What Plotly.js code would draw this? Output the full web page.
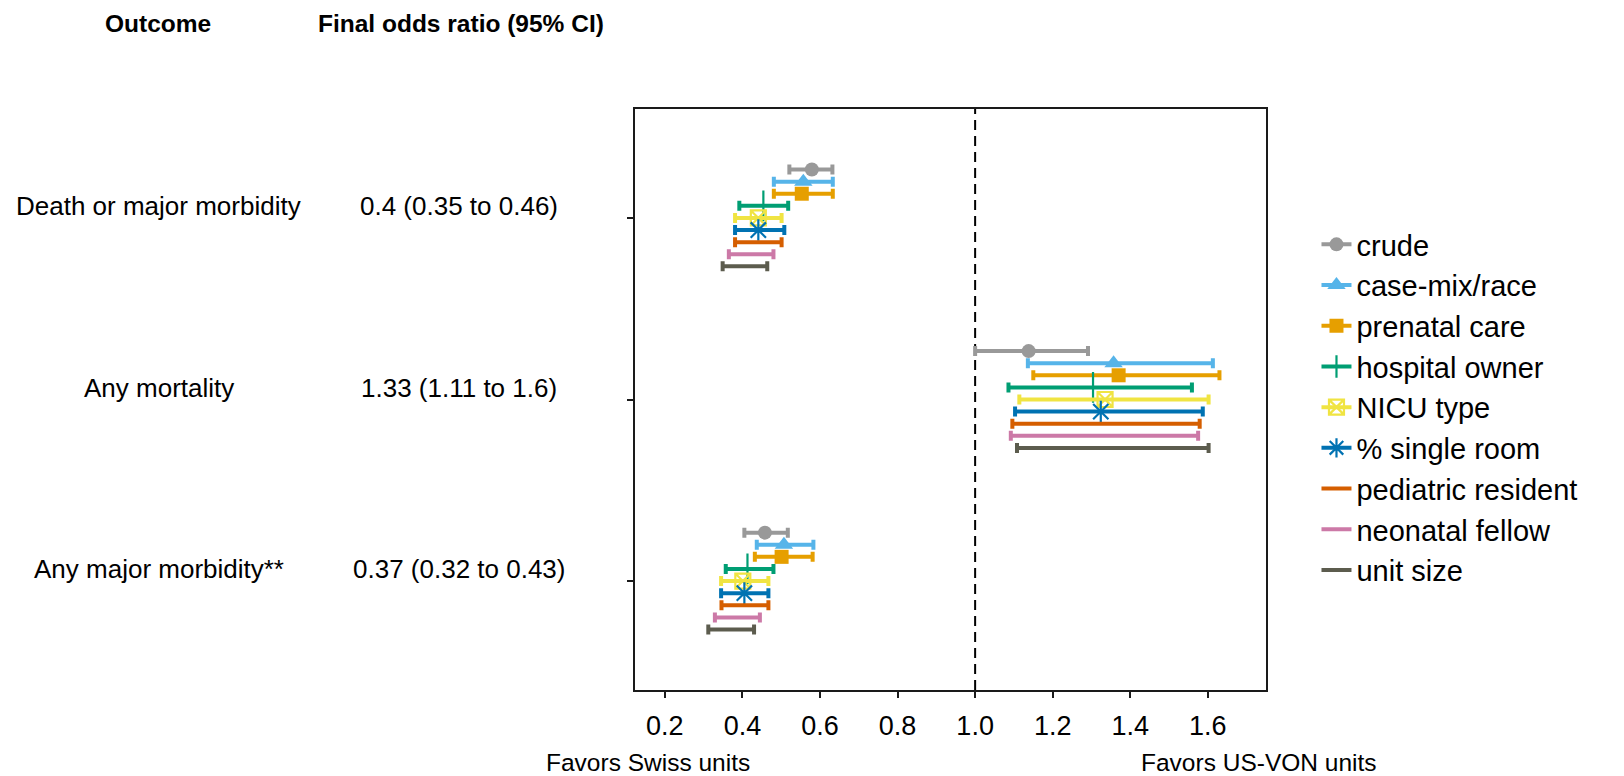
<!DOCTYPE html>
<html>
<head>
<meta charset="utf-8">
<script src="https://cdn.plot.ly/plotly-3.0.1.min.js"></script>
<style>html,body{margin:0;padding:0;background:#fff;}#chart{width:1624px;height:776px;}</style>
</head>
<body>
<div id="chart"></div>
<script>
// ---- Data ----
const outcomes = ["Death or major morbidity", "Any mortality", "Any major morbidity**"];
const finalOR = [0.4, 1.33, 0.37];
const finalLo = [0.35, 1.11, 0.32];
const finalHi = [0.46, 1.6, 0.43];

const seriesNames = ["crude", "case-mix/race", "prenatal care", "hospital owner", "NICU type",
  "% single room", "pediatric resident", "neonatal fellow", "unit size"];

// odds ratios per outcome (same order as outcomes)
const crudeOR = [0.579, 1.138, 0.458], crudeLo = [0.521, 1.000, 0.405], crudeHi = [0.632, 1.291, 0.517];
const caseMixOR = [0.557, 1.357, 0.507], caseMixLo = [0.481, 1.136, 0.437], caseMixHi = [0.633, 1.613, 0.583];
const prenatalOR = [0.553, 1.370, 0.501], prenatalLo = [0.481, 1.150, 0.432], prenatalHi = [0.633, 1.630, 0.581];
const hospitalOR = [0.454, 1.304, 0.413], hospitalLo = [0.392, 1.086, 0.357], hospitalHi = [0.518, 1.559, 0.480];
const nicuOR = [0.441, 1.335, 0.401], nicuLo = [0.381, 1.114, 0.345], nicuHi = [0.501, 1.602, 0.467];
const singleOR = [0.441, 1.324, 0.405], singleLo = [0.381, 1.103, 0.345], singleHi = [0.508, 1.587, 0.467];
const pediatricOR = [0.44, 1.32, 0.40], pediatricLo = [0.381, 1.096, 0.346], pediatricHi = [0.501, 1.579, 0.467];
const fellowOR = [0.42, 1.31, 0.38], fellowLo = [0.365, 1.092, 0.329], fellowHi = [0.480, 1.575, 0.445];
const unitOR = [0.40, 1.33, 0.37], unitLo = [0.349, 1.108, 0.312], unitHi = [0.464, 1.602, 0.430];

const estimates = [crudeOR, caseMixOR, prenatalOR, hospitalOR, nicuOR, singleOR, pediatricOR, fellowOR, unitOR];
const lowers = [crudeLo, caseMixLo, prenatalLo, hospitalLo, nicuLo, singleLo, pediatricLo, fellowLo, unitLo];
const uppers = [crudeHi, caseMixHi, prenatalHi, hospitalHi, nicuHi, singleHi, pediatricHi, fellowHi, unitHi];

const xTicks = [0.2, 0.4, 0.6, 0.8, 1.0, 1.2, 1.4, 1.6];
const xTickText = ["0.2", "0.4", "0.6", "0.8", "1.0", "1.2", "1.4", "1.6"];

// ---- Styles ----
const colors = ["#999999", "#56B4E9", "#E69F00", "#009E73", "#F0E442", "#0072B2", "#D55E00", "#CC79A7", "#5C5C4E"];
const symbols = ["circle", "triangle-up", "square", "cross-thin-open", "square-x-open", "asterisk-open", null, null, null];
const sizes = [14, 16, 14, 22, 15, 18, 0, 0, 0];

const FONT = "Liberation Sans, Arial, sans-serif";

const groupPos = outcomes.map((_, i) => i + 1);
const dodgeWidth = 0.6;
const nS = seriesNames.length;

function markerFor(s, legend) {
  const lw = (symbols[s] === "cross-thin-open" || symbols[s] === "asterisk-open" || symbols[s] === "square-x-open") ? 2.2 : 0;
  return {symbol: symbols[s], size: legend ? Math.min(sizes[s], 16) : sizes[s], color: colors[s],
          line: {color: colors[s], width: lw}};
}

const traces = [];
seriesNames.forEach((name, s) => {
  const off = (s - (nS - 1) / 2) * dodgeWidth / nS;
  const y = groupPos.map(g => g + off);
  const est = estimates[s];
  const hasMarker = symbols[s] !== null;
  traces.push({
    type: "scatter",
    mode: "markers",
    x: est,
    y: y,
    showlegend: false,
    name: name,
    marker: hasMarker ? markerFor(s, false) : {size: 1, color: colors[s], opacity: 0},
    error_x: {
      type: "data", symmetric: false,
      array: uppers[s].map((h, i) => h - est[i]),
      arrayminus: lowers[s].map((l, i) => est[i] - l),
      color: colors[s], thickness: 4, width: 5
    }
  });
});
// legend entries
seriesNames.forEach((name, s) => {
  const hasMarker = symbols[s] !== null;
  const t = {
    type: "scatter",
    mode: hasMarker ? "lines+markers" : "lines",
    x: [null], y: [null],
    name: name,
    showlegend: true,
    line: {color: colors[s], width: 4}
  };
  if (hasMarker) t.marker = markerFor(s, true);
  traces.push(t);
});

const annotations = [];
annotations.push({xref: "paper", yref: "paper", x: -0.756, y: 1.148, text: "<b>Outcome</b>", showarrow: false,
  xanchor: "center", yanchor: "middle", font: {family: FONT, size: 24.5, color: "#000"}});
annotations.push({xref: "paper", yref: "paper", x: -0.275, y: 1.148, text: "<b>Final odds ratio (95% CI)</b>", showarrow: false,
  xanchor: "center", yanchor: "middle", font: {family: FONT, size: 24.5, color: "#000"}});
outcomes.forEach((o, i) => {
  annotations.push({xref: "paper", yref: "y", x: -0.755, y: groupPos[i], yshift: 12, text: o, showarrow: false,
    xanchor: "center", yanchor: "middle", font: {family: FONT, size: 26, color: "#000"}});
  annotations.push({xref: "paper", yref: "y", x: -0.279, y: groupPos[i], yshift: 12,
    text: String(finalOR[i]) + " (" + String(finalLo[i]) + " to " + String(finalHi[i]) + ")", showarrow: false,
    xanchor: "center", yanchor: "middle", font: {family: FONT, size: 26, color: "#000"}});
});
annotations.push({xref: "paper", yref: "paper", x: 0.021, y: -0.125, text: "Favors Swiss units", showarrow: false,
  xanchor: "center", yanchor: "middle", font: {family: FONT, size: 24.5, color: "#000"}});
annotations.push({xref: "paper", yref: "paper", x: 0.9895, y: -0.125, text: "Favors US-VON units", showarrow: false,
  xanchor: "center", yanchor: "middle", font: {family: FONT, size: 24.5, color: "#000"}});

const layout = {
  width: 1624, height: 776,
  paper_bgcolor: "#ffffff", plot_bgcolor: "#ffffff",
  margin: {l: 635, r: 358, t: 109, b: 86, pad: 0},
  showlegend: true,
  legend: {
    x: 1.08, xanchor: "left", y: 0.8107, yanchor: "top",
    font: {family: FONT, size: 29, color: "#000"},
    bgcolor: "rgba(255,255,255,0)", tracegroupgap: 0, itemwidth: 30
  },
  xaxis: {
    range: [0.123, 1.75], tickvals: xTicks, ticktext: xTickText,
    showgrid: false, zeroline: false,
    showline: true, linecolor: "#1a1a1a", linewidth: 2, mirror: true,
    ticks: "outside", ticklen: 6, tickwidth: 2, tickcolor: "#1a1a1a",
    ticklabelstandoff: 5,
    tickfont: {family: FONT, size: 27, color: "#000"}
  },
  yaxis: {
    range: [3.6, 0.4], tickvals: groupPos, ticktext: groupPos.map(() => ""),
    showgrid: false, zeroline: false,
    showline: true, linecolor: "#1a1a1a", linewidth: 2, mirror: true,
    ticks: "outside", ticklen: 6, tickwidth: 2, tickcolor: "#1a1a1a"
  },
  shapes: [{
    type: "line", xref: "x", yref: "paper", x0: 1, x1: 1, y0: 0, y1: 1,
    line: {color: "#000", width: 2, dash: "10px,6px"}, layer: "below"
  }],
  annotations: annotations
};

Plotly.newPlot("chart", traces, layout, {displayModeBar: false, staticPlot: true});
</script>
</body>
</html>
